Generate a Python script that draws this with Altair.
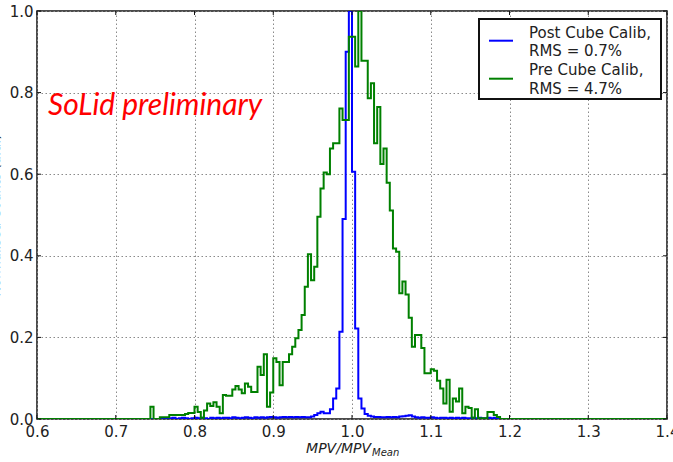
import altair as alt
import numpy as np
import pandas as pd

# ---------------- data ----------------
X_MIN, X_MAX = 0.6, 1.4
BIN_WIDTH = 0.004

SERIES = ["Post Cube Calib", "Pre Cube Calib"]
COLORS = ["#0000ff", "#008000"]
LEGEND_TEXT = ["Post Cube Calib,\nRMS = 0.7%", "Pre Cube Calib,\nRMS = 4.7%"]

# normalised bin contents, first value belongs to bin index *_START_BIN
BLUE_START_BIN = 40
BLUE = [
    0.002, 0.0, 0.002, 0.003, 0.0, 0.002, 0.003, 0.002, 0.0, 0.002,
    0.003, 0.002, 0.003, 0.002, 0.0, 0.003, 0.002, 0.003, 0.002, 0.003,
    0.003, 0.002, 0.004, 0.003, 0.002, 0.003, 0.004, 0.003, 0.002, 0.004,
    0.003, 0.004, 0.003, 0.004, 0.005, 0.004, 0.003, 0.004, 0.005, 0.004,
    0.005, 0.004, 0.005, 0.004, 0.005, 0.004, 0.004, 0.006, 0.010, 0.014,
    0.018, 0.014, 0.014, 0.024, 0.050, 0.075, 0.214, 0.490, 0.900, 1.000,
    0.606, 0.222, 0.050, 0.026, 0.012, 0.008, 0.006, 0.005, 0.005, 0.004,
    0.004, 0.005, 0.004, 0.005, 0.004, 0.006, 0.007, 0.008, 0.009, 0.006,
    0.004, 0.003, 0.004, 0.003, 0.003, 0.004, 0.003, 0.002, 0.003, 0.003,
    0.002, 0.003, 0.002, 0.003, 0.002, 0.003, 0.002, 0.002, 0.003, 0.002,
    0.003, 0.002, 0.002, 0.003, 0.002, 0.003, 0.002, 0.0,
]

GREEN_START_BIN = 36
GREEN = [
    0.030, 0.0, 0.0, 0.004, 0.004, 0.004, 0.010, 0.010, 0.010, 0.010,
    0.010, 0.012, 0.015, 0.015, 0.030, 0.017, 0.003, 0.021, 0.038, 0.032,
    0.041, 0.030, 0.014, 0.059, 0.057, 0.057, 0.072, 0.081, 0.072, 0.063,
    0.087, 0.079, 0.066, 0.066, 0.128, 0.108, 0.159, 0.030, 0.065, 0.149,
    0.140, 0.083, 0.140, 0.140, 0.159, 0.177, 0.198, 0.218, 0.255, 0.324,
    0.404, 0.340, 0.373, 0.496, 0.565, 0.604, 0.600, 0.663, 0.676, 0.676,
    0.761, 0.733, 0.733, 0.937, 0.937, 0.864, 1.000, 0.878, 0.878, 0.786,
    0.823, 0.676, 0.765, 0.625, 0.663, 0.579, 0.511, 0.418, 0.410, 0.308,
    0.337, 0.305, 0.248, 0.177, 0.206, 0.206, 0.174, 0.112, 0.112, 0.122,
    0.118, 0.094, 0.075, 0.038, 0.096, 0.018, 0.050, 0.043, 0.075, 0.014,
    0.030, 0.027, 0.003, 0.024, 0.002, 0.002, 0.002, 0.017, 0.017, 0.010,
    0.005, 0.0,
]

X_TICKS = [0.6, 0.7, 0.8, 0.9, 1.0, 1.1, 1.2, 1.3, 1.4]
Y_TICKS = [0.0, 0.2, 0.4, 0.6, 0.8, 1.0]

X_TITLE_MAIN = "MPV/MPV"
X_TITLE_SUB = "Mean"
Y_TITLE = "Normalised Counts (a.u.)"
NOTE = "SoLid preliminary"

# ---------------- build tables ----------------
N_BINS = int(round((X_MAX - X_MIN) / BIN_WIDTH))
EDGES = X_MIN + BIN_WIDTH * np.arange(N_BINS + 1)


def hist_frame(name, start, values):
    full = np.zeros(N_BINS)
    full[start:start + len(values)] = values
    y = np.append(full, full[-1])
    return pd.DataFrame({"x": EDGES, "y": y, "series": name})


blue_df = hist_frame(SERIES[0], BLUE_START_BIN, BLUE)
green_df = hist_frame(SERIES[1], GREEN_START_BIN, GREEN)

W, H = 630, 408
FONT = "DejaVu Sans"

xscale = alt.Scale(domain=[X_MIN, X_MAX], nice=False, zero=False)
yscale = alt.Scale(domain=[0, 1], nice=False, zero=False)
cscale = alt.Scale(domain=SERIES, range=COLORS)

x_axis = alt.Axis(values=X_TICKS, format=".1f", labelFont=FONT, labelFontSize=15,
                  labelColor="#222", grid=True, gridDash=[1.5, 2.5], gridColor="#8a8a8a",
                  gridWidth=1, ticks=False, domain=False, title=None, labelPadding=5,
                  labelFlush=False, labelOverlap=False)
y_axis = alt.Axis(values=Y_TICKS, format=".1f", labelFont=FONT, labelFontSize=15,
                  labelColor="#222", grid=True, gridDash=[1.5, 2.5], gridColor="#8a8a8a",
                  gridWidth=1, ticks=False, domain=False, title=Y_TITLE, titleFont=FONT,
                  titleFontSize=13, titleFontWeight="normal", titleColor="#222",
                  titleX=-38, titleY=H / 2, titleAngle=270, titleBaseline="alphabetic",
                  labelPadding=4, labelFlush=False, labelOverlap=False)


def hist_layer(df):
    return alt.Chart(df).mark_line(interpolate="step-after", strokeWidth=2, clip=True).encode(
        x=alt.X("x:Q", scale=xscale, axis=x_axis),
        y=alt.Y("y:Q", scale=yscale, axis=y_axis),
        color=alt.Color("series:N", scale=cscale, legend=None),
    )


blue = hist_layer(blue_df)
green = hist_layer(green_df)

# inward ticks, like the original
xt = pd.DataFrame({"t": X_TICKS})
yt = pd.DataFrame({"t": Y_TICKS})
tick_bottom = alt.Chart(xt).mark_rule(color="#111", strokeWidth=1).encode(
    x=alt.X("t:Q", scale=xscale, axis=x_axis), y=alt.value(H), y2=alt.value(H - 4))
tick_top = alt.Chart(xt).mark_rule(color="#111", strokeWidth=1).encode(
    x=alt.X("t:Q", scale=xscale, axis=x_axis), y=alt.value(0), y2=alt.value(4))
tick_left = alt.Chart(yt).mark_rule(color="#111", strokeWidth=1).encode(
    y=alt.Y("t:Q", scale=yscale, axis=y_axis), x=alt.value(0), x2=alt.value(4))
tick_right = alt.Chart(yt).mark_rule(color="#111", strokeWidth=1).encode(
    y=alt.Y("t:Q", scale=yscale, axis=y_axis), x=alt.value(W), x2=alt.value(W - 4))

one = pd.DataFrame({"a": [0]})

note = alt.Chart(one).mark_text(text=NOTE, font="Lato", fontStyle="italic", fontSize=30,
                                color="#ff0000", align="left", baseline="alphabetic").encode(
    x=alt.value(11), y=alt.value(104))

xtitle_main = alt.Chart(one).mark_text(text=X_TITLE_MAIN, font=FONT, fontStyle="italic",
                                       fontSize=14, color="#222", align="right",
                                       baseline="alphabetic").encode(
    x=alt.value(334), y=alt.value(442))
xtitle_sub = alt.Chart(one).mark_text(text=X_TITLE_SUB, font=FONT, fontStyle="italic",
                                      fontSize=10, color="#222", align="left",
                                      baseline="alphabetic").encode(
    x=alt.value(335), y=alt.value(445))

# legend box
leg_box = alt.Chart(one).mark_rect(fill="white", stroke="#111", strokeWidth=2).encode(
    x=alt.value(442), x2=alt.value(624), y=alt.value(8), y2=alt.value(88))

leg_layers = []
for i, (name, txt) in enumerate(zip(SERIES, LEGEND_TEXT)):
    d = pd.DataFrame({"series": [name], "label": [txt]})
    line_y = 29.7 + 38 * i
    leg_layers.append(alt.Chart(d).mark_rule(strokeWidth=2).encode(
        x=alt.value(452), x2=alt.value(476), y=alt.value(line_y),
        color=alt.Color("series:N", scale=cscale, legend=None)))
    leg_layers.append(alt.Chart(d).mark_text(font=FONT, fontSize=15, color="#222",
                                             align="left", baseline="alphabetic",
                                             lineBreak="\n", lineHeight=18.5).encode(
        x=alt.value(492), y=alt.value(26.5 + 37.5 * i), text="label:N"))

chart = alt.layer(
    blue, green, tick_bottom, tick_top, tick_left, tick_right,
    note, xtitle_main, xtitle_sub, leg_box, *leg_layers
).properties(
    width=W, height=H,
    autosize=alt.AutoSizeParams(type="none"),
    padding={"left": 37, "top": 11, "right": 6, "bottom": 43},
    background="white",
).configure_view(stroke="#111", strokeWidth=1.5)

chart.save("out.html", embed_options={"renderer": "svg", "actions": False})
